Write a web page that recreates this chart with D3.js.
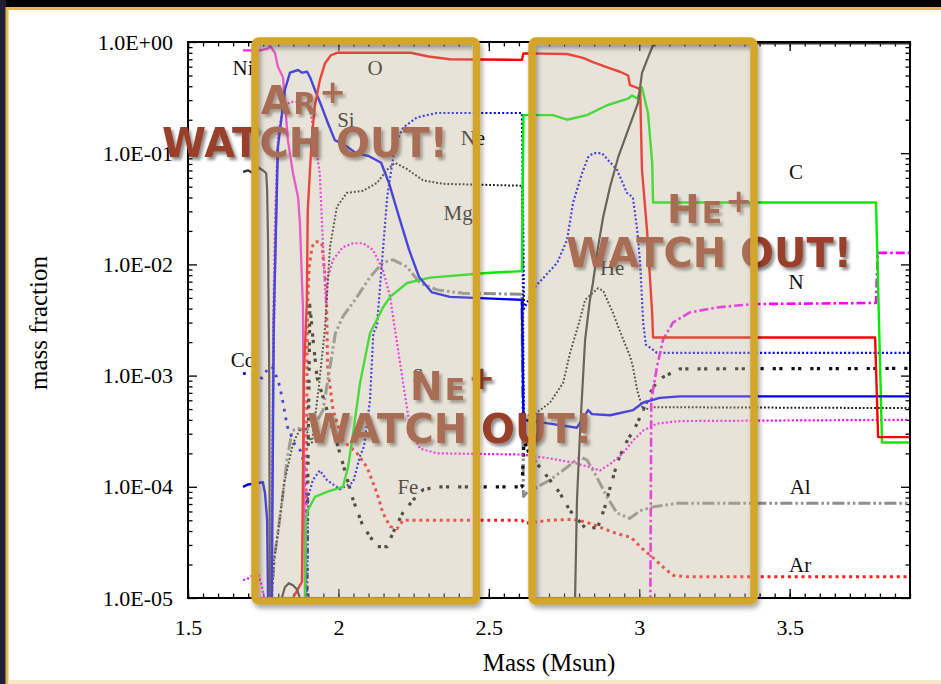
<!DOCTYPE html>
<html>
<head>
<meta charset="utf-8">
<script src="https://cdn.jsdelivr.net/npm/d3@7"></script>
<style>
  html, body { margin: 0; padding: 0; background: #000; overflow: hidden; }
  svg { display: block; }
</style>
</head>
<body>
<svg id="chart" width="941" height="684"></svg>
<script>
// ---- axis ticks ----
const massTicks = [1.5, 2, 2.5, 3, 3.5];
const massTickLabels = ["1.5", "2", "2.5", "3", "3.5"];
const fractionTicks = [1, 1e-1, 1e-2, 1e-3, 1e-4, 1e-5];
const fractionTickLabels = ["1.0E+00", "1.0E-01", "1.0E-02", "1.0E-03", "1.0E-04", "1.0E-05"];

// ---- mass fraction profiles: [mass (Msun), mass fraction] ----
const oxygen = [[1.84,1e-6],[1.849,1.0e-5],[1.872,1.3e-5],[1.879,1.4e-5],[1.885,1e-3],[1.895,4.5e-3],[1.898,0.03],[1.911,0.13],[1.921,0.26],[1.938,0.45],[1.955,0.64],[1.975,0.76],[1.995,0.80],[2.24,0.80],[2.30,0.74],[2.37,0.70],[2.61,0.69],[2.615,0.79],[2.76,0.78],[2.813,0.72],[2.846,0.66],[2.903,0.58],[2.936,0.54],[2.963,0.50],[2.969,0.41],[2.996,0.385],[3.003,0.37],[3.009,0.071],[3.026,0.020],[3.043,3.6e-3],[3.046,2.2e-3],[3.784,2.2e-3],[3.794,2.8e-4],[3.9,2.8e-4]];

const neon = [[1.772,1e-6],[1.785,2e-3],[1.797,0.11],null,[1.893,1e-6],[1.899,8e-5],[1.915,1.15e-4],[1.938,1.4e-4],[1.962,1.15e-4],[2.005,9.5e-5],[2.049,1.1e-4],[2.072,1.9e-4],[2.085,2.3e-4],[2.105,6e-4],[2.116,2.4e-3],[2.128,2.8e-3],[2.162,0.040],[2.182,0.092],[2.195,0.13],[2.215,0.17],[2.261,0.21],[2.327,0.23],[2.61,0.23],[2.617,4e-3],[2.654,6.3e-3],[2.727,0.0103],[2.760,0.0166],[2.780,0.036],[2.810,0.066],[2.830,0.092],[2.846,0.10],[2.876,0.10],[2.896,0.087],[2.926,0.071],[2.959,0.044],[2.979,0.040],[2.993,0.0205],[3.003,0.0103],[3.013,3.0e-3],[3.022,1.9e-3],[3.059,1.6e-3],[3.9,1.6e-3]];

const magnesium = [[1.774,1e-6],[1.779,1e-5],[1.786,2.2e-5],[1.80,4e-5],[1.82,1.1e-4],[1.85,2.5e-4],[1.87,3.2e-4],[1.89,3.4e-4],[1.912,2.5e-4],[1.935,8e-4],[1.955,2.6e-3],[1.972,0.0143],[1.995,0.033],[2.028,0.044],[2.082,0.046],[2.128,0.054],[2.162,0.071],[2.188,0.082],[2.228,0.072],[2.281,0.057],[2.348,0.053],[2.61,0.051],[2.617,4.4e-4],[2.647,4.4e-4],[2.703,5.7e-4],[2.747,8.6e-4],[2.770,1.6e-3],[2.803,3.2e-3],[2.820,4.8e-3],[2.863,6.1e-3],[2.880,5.8e-3],[2.913,3.65e-3],[2.936,2.5e-3],[2.969,1.5e-3],[2.979,1.2e-3],[2.993,7.4e-4],[3.013,4.9e-4],[3.046,5.2e-4],[3.9,5.1e-4]];

const silicon = [[1.683,1.0e-4],[1.70,1.05e-4],[1.749,1.1e-4],[1.756,8.8e-5],[1.763,5e-5],[1.766,1e-5],[1.768,1e-6],[1.776,1e-6],[1.785,3e-3],[1.799,0.114],[1.822,0.37],[1.839,0.53],[1.866,0.56],[1.879,0.53],[1.896,0.54],[1.906,0.48],[1.922,0.37],[1.945,0.26],[1.965,0.187],[1.988,0.131],[2.022,0.118],[2.059,0.100],[2.102,0.094],[2.142,0.082],[2.168,0.054],[2.201,0.027],[2.235,0.0135],[2.268,7.7e-3],[2.311,5.6e-3],[2.371,5.1e-3],[2.61,4.8e-3],[2.615,4.0e-4],[2.703,3.7e-4],[2.793,3.4e-4],[2.830,4.9e-4],[2.843,4.5e-4],[2.903,4.4e-4],[2.980,4.9e-4],[3.012,5.7e-4],[3.068,6.3e-4],[3.135,6.5e-4],[3.9,6.5e-4]];

const carbon = [[1.885,1e-6],[1.892,5e-5],[1.899,6.2e-5],[1.922,8.1e-5],[1.962,9.0e-5],[2.015,1.0e-4],[2.032,1.5e-4],[2.049,3.05e-4],[2.072,8.6e-4],[2.105,2.4e-3],[2.148,4.1e-3],[2.172,5.1e-3],[2.228,6.8e-3],[2.305,7.6e-3],[2.504,8.4e-3],[2.61,8.7e-3],[2.615,0.22],[2.713,0.22],[2.760,0.20],[2.826,0.22],[2.893,0.27],[2.963,0.31],[2.976,0.33],[2.993,0.31],[3.009,0.39],[3.029,0.23],[3.043,0.082],[3.046,0.036],[3.787,0.036],[3.807,2.5e-4],[3.9,2.5e-4]];

const helium = [[1.683,0.068],[1.70,0.070],[1.72,0.065],[1.735,0.074],[1.749,0.070],[1.760,0.066],[1.763,0.047],[1.766,0.0166],[1.770,1e-3],[1.772,1e-5],[1.774,1e-6],[1.810,1e-6],[1.812,1.0e-5],[1.822,1.25e-5],[1.835,1.36e-5],[1.849,1.3e-5],[1.862,1.2e-5],[1.872,1.0e-5],[1.876,1e-6],[2.780,1e-6],[2.787,1.1e-5],[2.793,7.6e-5],[2.803,3.05e-4],[2.820,2.1e-3],[2.836,4.8e-3],[2.846,6.8e-3],[2.863,0.0143],[2.880,0.0267],[2.903,0.050],[2.930,0.092],[2.963,0.162],[2.996,0.283],[3.009,0.526],[3.026,0.69],[3.046,0.94],[3.06,0.97],[3.9,0.97]];

const nitrogen = [[3.030,1e-6],[3.037,1e-5],[3.040,6e-4],[3.059,1.2e-3],[3.079,2.1e-3],[3.112,3.0e-3],[3.168,3.7e-3],[3.258,4.1e-3],[3.378,4.4e-3],[3.787,4.5e-3],[3.793,0.0127],[3.9,0.0127]];

const nickel = [[1.683,0.84],[1.74,0.84],[1.765,0.87],[1.773,0.92],[1.789,0.80],[1.799,0.60],[1.816,0.48],[1.832,0.131],[1.849,0.066],[1.866,0.040],[1.872,0.0235],[1.882,4.1e-3],[1.889,1e-5],[1.891,1e-6]];

const cobalt = [[1.683,1.05e-3],[1.72,1.0e-3],[1.746,9.5e-4],[1.765,1.15e-3],[1.780,1.2e-3],[1.800,9e-4],[1.812,6.5e-4],[1.830,3.5e-4],[1.855,2.4e-4],[1.875,2.1e-4],[1.886,1.6e-4],[1.893,1e-5],[1.897,1e-6]];

const sulfur = [[1.683,1.45e-5],[1.70,1.5e-5],[1.715,1.6e-5],[1.730,1.75e-5],[1.745,1.3e-5],[1.757,9e-6],[1.762,1e-6],[1.776,1e-6],[1.783,3e-3],[1.790,0.03],[1.800,0.15],[1.815,0.25],[1.840,0.29],[1.866,0.29],[1.905,0.26],[1.922,0.131],[1.938,0.066],[1.948,0.0166],[1.958,4.5e-3],[1.965,7.7e-3],[1.982,0.011],[2.015,0.0143],[2.049,0.0155],[2.082,0.0155],[2.115,0.0135],[2.148,8.9e-3],[2.172,5.1e-3],[2.188,2.6e-3],[2.215,8.6e-4],[2.238,3.45e-4],[2.271,2.2e-4],[2.328,2.0e-4],[2.61,1.95e-4],[2.62,1.93e-4],[2.703,1.8e-4],[2.780,1.65e-4],[2.836,1.5e-4],[2.869,1.4e-4],[2.903,1.6e-4],[2.946,2.0e-4],[2.979,2.6e-4],[3.013,3.2e-4],[3.059,3.7e-4],[3.135,3.9e-4],[3.9,4.0e-4]];

const iron = [[1.893,1e-6],[1.898,1e-4],[1.905,4.3e-3],[1.915,2.2e-3],[1.922,1.45e-3],[1.929,9.6e-4],[1.962,4.9e-4],[2.005,2.0e-4],[2.049,7.6e-5],[2.082,4.4e-5],[2.128,2.9e-5],[2.162,2.9e-5],[2.182,3.9e-5],[2.215,5.9e-5],[2.248,7.6e-5],[2.281,9.4e-5],[2.328,1.0e-4],[2.61,1.0e-4],[2.617,2.6e-4],[2.637,1.9e-4],[2.670,1.5e-4],[2.703,1.15e-4],[2.736,8.8e-5],[2.770,6.1e-5],[2.826,4.1e-5],[2.863,4.4e-5],[2.886,6.6e-5],[2.906,1.05e-4],[2.930,1.74e-4],[2.953,2.4e-4],[2.993,3.7e-4],[3.026,5.9e-4],[3.046,7.9e-4],[3.079,9.7e-4],[3.135,1.15e-3],[3.9,1.16e-3]];

const aluminium = [[1.775,1e-6],[1.779,1.2e-5],[1.789,2.5e-5],[1.812,7.1e-5],[1.829,1.74e-4],[1.846,3.2e-4],[1.866,3.35e-4],[1.885,3.2e-4],[1.920,3.5e-4],[1.949,4.9e-4],[1.972,1.2e-3],[1.990,2.4e-3],[2.015,3.4e-3],[2.062,5.1e-3],[2.105,7.7e-3],[2.148,0.0104],[2.182,0.011],[2.228,9.5e-3],[2.271,6.8e-3],[2.328,5.9e-3],[2.414,5.5e-3],[2.61,5.4e-3],[2.615,8.2e-5],[2.625,8.8e-5],[2.703,1.15e-4],[2.760,1.5e-4],[2.803,1.85e-4],[2.826,1.75e-4],[2.859,1.22e-4],[2.893,8.1e-5],[2.926,5.8e-5],[2.969,5.2e-5],[3.003,6.1e-5],[3.046,6.6e-5],[3.125,7.1e-5],[3.9,7.1e-5]];

const argon = [[1.888,1e-6],[1.897,4.1e-3],[1.903,9.5e-3],[1.912,0.0143],[1.922,0.016],[1.938,0.016],[1.945,0.0155],[1.949,0.0117],[1.960,6e-3],[1.964,1.2e-3],[1.982,4.9e-4],[2.015,2.6e-4],[2.062,2.0e-4],[2.095,1.5e-4],[2.128,8.8e-5],[2.148,5.8e-5],[2.172,4.4e-5],[2.195,4.2e-5],[2.215,5.0e-5],[2.61,5.0e-5],[2.62,4.7e-5],[2.703,5.0e-5],[2.780,5.1e-5],[2.826,4.8e-5],[2.863,4.4e-5],[2.919,3.85e-5],[2.973,3.5e-5],[3.009,2.8e-5],[3.046,2.3e-5],[3.079,1.9e-5],[3.112,1.6e-5],[3.158,1.55e-5],[3.9,1.55e-5]];

// ---- species labels ----
const labelNames    = ["Ni", "O", "Si", "Ne", "Mg", "C", "He", "N", "Co", "S", "Fe", "Al", "Ar"];
const labelMass     = [1.683, 2.122, 2.025, 2.447, 2.398, 3.521, 2.91, 3.521, 1.683, 2.265, 2.231, 3.535, 3.535];
const labelFraction = [0.58, 0.58, 0.20, 0.137, 0.029, 0.068, 9.3e-3, 6.9e-3, 1.38e-3, 1.0e-3, 1.0e-4, 1.0e-4, 2.0e-5];

// ---- shaded burning zones (mass ranges) and their warnings ----
const zoneStart = [1.7227, 2.6436];
const zoneEnd   = [2.459, 3.3816];
const warnIon   = [["A", "R"], ["N", "E"], ["H", "E"]];
const warnIonAt   = [[1.7427, 0.225], [2.238, 6.0e-4], [3.0924, 0.0236]];
const warnTextAt  = [[1.4136, 0.0924], [1.8956, 2.48e-4], [2.7567, 9.5e-3]];

// ---- layout ----
const W = 941, H = 684;
const P = { left: 188, right: 910, top: 42, bottom: 598 };
const serif = "'Liberation Serif', 'Times New Roman', Times, serif";
const warnFont = "'DejaVu Sans', 'Verdana', sans-serif";

const svg = d3.select("#chart");
const defs = svg.append("defs");

defs.append("clipPath").attr("id", "plotClip")
  .append("rect")
  .attr("x", P.left).attr("y", P.top - 3)
  .attr("width", P.right - P.left).attr("height", P.bottom - P.top + 3);

const txtShadow = defs.append("filter").attr("id", "txtShadow")
  .attr("x", "-10%").attr("y", "-30%").attr("width", "130%").attr("height", "170%");
txtShadow.append("feDropShadow").attr("dx", 2.5).attr("dy", 3).attr("stdDeviation", 1.6)
  .attr("flood-color", "#000").attr("flood-opacity", 0.45);

const boxShadow = defs.append("filter").attr("id", "boxShadow")
  .attr("x", "-10%").attr("y", "-10%").attr("width", "125%").attr("height", "125%");
boxShadow.append("feDropShadow").attr("dx", 2).attr("dy", 3.5).attr("stdDeviation", 2.5)
  .attr("flood-color", "#000").attr("flood-opacity", 0.35);

// ---- slide backdrop ----
svg.append("rect").attr("width", W).attr("height", H).attr("fill", "#000");
svg.append("rect").attr("x", 0).attr("y", 0).attr("width", 6).attr("height", H).attr("fill", "#1f1f36");
svg.append("rect").attr("x", 7).attr("y", 8.5).attr("width", 980).attr("height", 700)
  .attr("fill", "#fff").attr("stroke", "#e2b94e").attr("stroke-width", 3);
svg.append("rect").attr("x", 8.5).attr("y", 680).attr("width", W).attr("height", 4).attr("fill", "#f4e9c6");

// ---- scales ----
const x = d3.scaleLinear().domain([1.5, 3.9]).range([P.left, P.right]);
const y = d3.scaleLog().domain([1e-5, 1]).range([P.bottom, P.top]);

const massMinor = d3.range(30, 79).map(i => i / 20);
const fractionMinor = [];
for (let e = -5; e <= -1; e++) for (let k = 2; k <= 9; k++) fractionMinor.push(k * Math.pow(10, e));

function axisGroup(axis, tx, ty) {
  const g = svg.append("g").attr("transform", `translate(${tx},${ty})`).call(axis);
  g.select(".domain").remove();
  g.selectAll("line").attr("stroke", "#000").attr("stroke-width", 1.3);
  g.selectAll("text").attr("font-family", serif).attr("font-size", 22).attr("fill", "#000");
  return g;
}

// minor ticks, all four sides, pointing inward
axisGroup(d3.axisBottom(x).tickValues(massMinor).tickSize(-4.5).tickFormat(""), 0, P.bottom);
axisGroup(d3.axisTop(x).tickValues(massMinor).tickSize(-4.5).tickFormat(""), 0, P.top);
axisGroup(d3.axisLeft(y).tickValues(fractionMinor).tickSize(-4.5).tickFormat(""), P.left, 0);
axisGroup(d3.axisRight(y).tickValues(fractionMinor).tickSize(-4.5).tickFormat(""), P.right, 0);

// major ticks with labels
axisGroup(d3.axisBottom(x).tickValues(massTicks).tickSize(-9).tickPadding(21)
  .tickFormat((d, i) => massTickLabels[i]), 0, P.bottom);
axisGroup(d3.axisTop(x).tickValues(massTicks).tickSize(-9).tickFormat(""), 0, P.top);
axisGroup(d3.axisLeft(y).tickValues(fractionTicks).tickSize(-9).tickPadding(15)
  .tickFormat((d, i) => fractionTickLabels[i]), P.left, 0);
axisGroup(d3.axisRight(y).tickValues(fractionTicks).tickSize(-9).tickFormat(""), P.right, 0);

// axis titles
svg.append("text")
  .attr("x", (P.left + P.right) / 2).attr("y", 671)
  .attr("text-anchor", "middle")
  .attr("font-family", serif).attr("font-size", 25).attr("fill", "#000")
  .text("Mass (Msun)");
svg.append("text")
  .attr("transform", `translate(47,${(P.top + P.bottom) / 2 + 3}) rotate(-90)`)
  .attr("text-anchor", "middle")
  .attr("font-family", serif).attr("font-size", 25).attr("fill", "#000")
  .text("mass fraction");

// ---- profiles ----
const series = [
  { data: argon,     color: "#ff1e1e", width: 3,   dash: "3,3.8" },
  { data: aluminium, color: "#8e8e8e", width: 3,   dash: "12,3,2.5,3,2.5,3" },
  { data: iron,      color: "#111111", width: 3.2, dash: "3.2,3.4,3.2,9" },
  { data: sulfur,    color: "#ff00ff", width: 2.2, dash: "2,2.2" },
  { data: cobalt,    color: "#0000ff", width: 2.8, dash: "2.8,6" },
  { data: magnesium, color: "#1a1a1a", width: 2,   dash: "1.8,2" },
  { data: neon,      color: "#0000ff", width: 2.2, dash: "2,2.2" },
  { data: nitrogen,  color: "#ff00ff", width: 2.6, dash: "9,3,2.5,3" },
  { data: nickel,    color: "#ff22e6", width: 2.3, dash: null },
  { data: carbon,    color: "#00ee00", width: 2.4, dash: null },
  { data: silicon,   color: "#0000ff", width: 2.4, dash: null },
  { data: oxygen,    color: "#ff0000", width: 2.4, dash: null },
  { data: helium,    color: "#363230", width: 2.2, dash: null }
];

const line = d3.line()
  .defined(d => d !== null)
  .x(d => x(d[0]))
  .y(d => y(d[1]));

const plot = svg.append("g").attr("clip-path", "url(#plotClip)");
plot.selectAll("path.profile")
  .data(series)
  .join("path")
  .attr("class", "profile")
  .attr("d", s => line(s.data))
  .attr("fill", "none")
  .attr("stroke", s => s.color)
  .attr("stroke-width", s => s.width)
  .attr("stroke-dasharray", s => s.dash)
  .attr("stroke-linejoin", "round");

// plot frame
svg.append("rect")
  .attr("x", P.left).attr("y", P.top)
  .attr("width", P.right - P.left).attr("height", P.bottom - P.top)
  .attr("fill", "none").attr("stroke", "#000").attr("stroke-width", 2);

// species labels
svg.append("g").selectAll("text")
  .data(labelNames)
  .join("text")
  .attr("x", (d, i) => x(labelMass[i]))
  .attr("y", (d, i) => y(labelFraction[i]))
  .attr("text-anchor", "middle")
  .attr("dominant-baseline", "central")
  .attr("font-family", serif).attr("font-size", 21).attr("fill", "#111")
  .text(d => d);

// ---- warnings ----
const warnColor = "#9a4029";
const warnG = svg.append("g").attr("filter", "url(#txtShadow)")
  .attr("font-family", warnFont).attr("font-weight", "bold").attr("fill", warnColor);

warnIon.forEach((ion, i) => {
  const t = warnG.append("text")
    .attr("x", x(warnIonAt[i][0])).attr("y", y(warnIonAt[i][1]));
  t.append("tspan").attr("font-size", 39).text(ion[0]);
  t.append("tspan").attr("font-size", 30).attr("dx", 2).text(ion[1]);
  t.append("tspan").attr("font-size", 32).attr("dx", 3).attr("dy", -11).text("+");

  warnG.append("text")
    .attr("x", x(warnTextAt[i][0])).attr("y", y(warnTextAt[i][1]))
    .attr("font-size", 40)
    .attr("textLength", 286).attr("lengthAdjust", "spacingAndGlyphs")
    .text("WATCH OUT!");
});

// ---- shaded zones on top of everything ----
const zones = zoneStart.map((s, i) => [s, zoneEnd[i]]);
const zoneG = svg.append("g");
zoneG.selectAll("rect.fill")
  .data(zones)
  .join("rect")
  .attr("class", "fill")
  .attr("x", d => x(d[0])).attr("y", P.top - 1)
  .attr("width", d => x(d[1]) - x(d[0])).attr("height", P.bottom - P.top + 4)
  .attr("fill", "rgb(195,182,155)").attr("fill-opacity", 0.38);
zoneG.selectAll("rect.edge")
  .data(zones)
  .join("rect")
  .attr("class", "edge")
  .attr("x", d => x(d[0])).attr("y", P.top - 1)
  .attr("width", d => x(d[1]) - x(d[0])).attr("height", P.bottom - P.top + 4)
  .attr("rx", 4).attr("ry", 4)
  .attr("fill", "none").attr("stroke", "#d4a529").attr("stroke-width", 7.5)
  .attr("filter", "url(#boxShadow)");
</script>
</body>
</html>
